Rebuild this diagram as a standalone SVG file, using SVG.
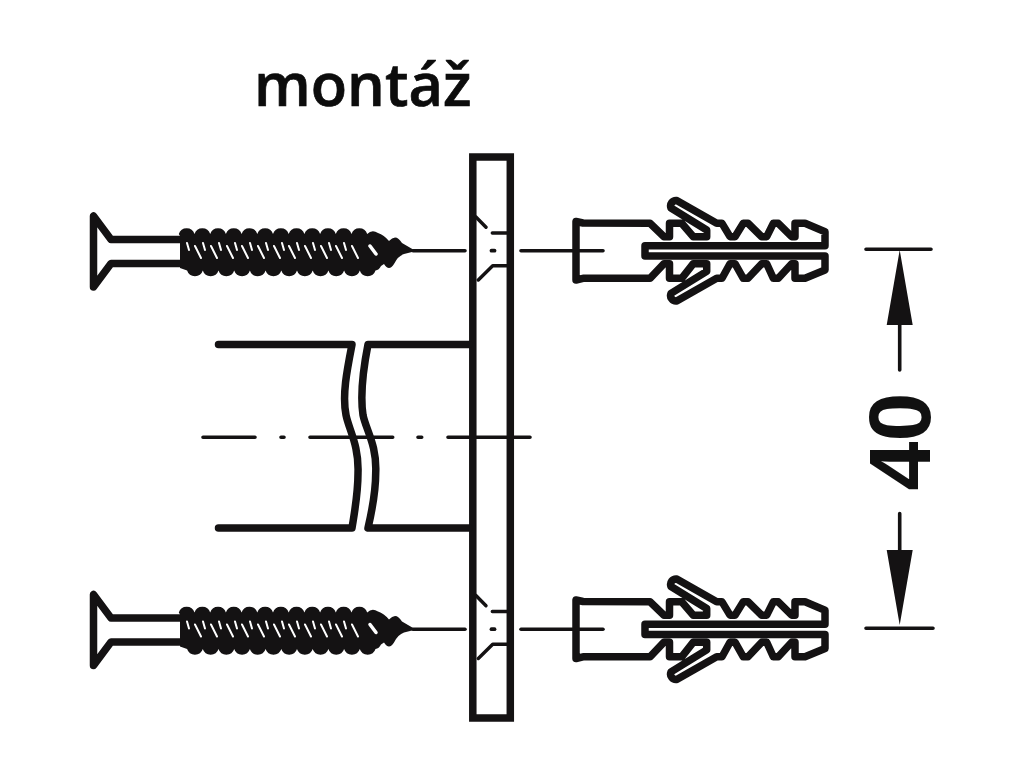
<svg xmlns="http://www.w3.org/2000/svg" xmlns:xlink="http://www.w3.org/1999/xlink" width="1024" height="768" viewBox="0 0 1024 768">
<style>
.o{fill:none;stroke:#141213;stroke-linecap:round;stroke-linejoin:round}
.w6{stroke-width:7.5}
.w3{stroke-width:3.6}
.k{fill:#141213}
.s{fill:none;stroke:#fff;stroke-linecap:round}
.title{font-family:"Open Sans",sans-serif;font-weight:600;font-size:59.5px;fill:#0c0c0c;stroke:#0c0c0c;stroke-width:.7}
.dim{font-family:"Liberation Sans",Arial,sans-serif;font-weight:700;font-size:88px;fill:#111}
</style>
<defs>
<g id="screw">
<path class="o w6" d="M182,239.5H111L93.5,216V287L111,263.5H182"/>
<path class="k" d="M180,236L178.8,234a8.25,8.25 0 0 1 15.7,0a8.25,8.25 0 0 1 15.7,0a8.25,8.25 0 0 1 15.7,0a8.25,8.25 0 0 1 15.7,0a8.25,8.25 0 0 1 15.7,0a8.25,8.25 0 0 1 15.7,0a8.25,8.25 0 0 1 15.7,0a8.25,8.25 0 0 1 15.7,0a8.25,8.25 0 0 1 15.7,0a8.25,8.25 0 0 1 15.7,0a8.25,8.25 0 0 1 15.7,0a8.25,8.25 0 0 1 15.7,0Q372,229 378,233Q384,235 389,241Q396,233 402,243L414,250L414,251.5L404,254Q398,256 394,264Q389,272 384,264L381,266Q379,270 375.5,270.5a8.25,8.25 0 0 1 -15.7,0a8.25,8.25 0 0 1 -15.7,0a8.25,8.25 0 0 1 -15.7,0a8.25,8.25 0 0 1 -15.7,0a8.25,8.25 0 0 1 -15.7,0a8.25,8.25 0 0 1 -15.7,0a8.25,8.25 0 0 1 -15.7,0a8.25,8.25 0 0 1 -15.7,0a8.25,8.25 0 0 1 -15.7,0a8.25,8.25 0 0 1 -15.7,0a8.25,8.25 0 0 1 -15.7,0a8.25,8.25 0 0 1 -15.7,0L180,268Z"/>
<path class="s" stroke-width="2" d="M187,243L189,250M195,246L201,258M211,246L217,258M227,246L233,258M242,246L248,258M258,246L264,258M274,246L280,258M289,246L295,258M305,246L311,258M321,246L327,258M336,246L342,258M352,246L358,258M203,243L205,250M219,243L221,250M235,243L237,250M250,243L252,250M266,243L268,250M282,243L284,250M297,243L299,250M313,243L315,250M329,243L331,250M344,243L346,250"/>
<path class="s" stroke-width="3.5" d="M370,246L376,254"/>
<path d="M413,250.7H465" class="o w3"/>
</g>
<g id="dowel">
<path class="o w6" d="M583,223L576,221.5V280L583,278.3H650L664,263.7H669.5V278.3H681.7L693.3,263.7H706.7V271.4L671,293.4A5.5,5.5 0 0 0 676.7,301L716.7,278.3H722L730,263.7H735L743.3,278.3H748L761.7,263.7H766.7L773.3,278.3H778.3L791.7,263.7H795V278.3H805L825,270V256H645V245.8H825V231.7L805,223.3H795V236.7H791.7L778.3,223.3H773.3L766.7,236.7H761.7L748,223.3H743.3L735,236.7H730L722,223.3H716.7L676.7,200.5A5.5,5.5 0 0 0 671,208L706.7,230V236.7H693.3L681.7,223.3H669.5V236.7H664L650,223.3Z"/>
<path class="o w3" d="M521,250.7H603"/>
</g>
<g id="hole">
<path class="o" stroke-width="3.4" d="M475.7,216.7L486,227.3M492.3,233H507M478.3,280L492.7,265.7H507"/>
<path class="o" stroke-width="3.8" d="M491.5,250.7H494.5"/>
</g>
</defs>

<g id="title"><text class="title" x="254" y="106">montáž</text></g>

<g id="connectors">
<path class="o w3" d="M203,437.3H255M281,437.3H284M310,437.3H392.7M418,437.3H421.7M448,437.3H530"/>
<path class="o w3" d="M866,249.3H931M866,628.3H933M899.7,325V370M899.7,513.5V550"/>
<path class="k" d="M899.7,250L912.7,325H886.7ZM899.7,625L912.7,550H886.7Z"/>
</g>

<g id="plate">
<rect x="472.8" y="157" width="37.5" height="561" fill="none" stroke="#141213" stroke-width="7.5"/>
<use xlink:href="#hole"/>
<use xlink:href="#hole" y="378.5"/>
</g>

<g id="tube">
<path class="o w6" d="M218.5,344.5H352C347,370 342,395 346,415C349,430 359,445 358,473C358,495 354,515 352,528H218.5"/>
<path class="o w6" d="M469,344.5H368C363,370 360,395 363,415C366,430 377,445 375.7,473C375.7,495 371,515 368,528H469"/>
</g>

<g id="screw-top"><use xlink:href="#screw"/></g>
<g id="screw-bottom"><use xlink:href="#screw" y="378.5"/></g>
<g id="dowel-top"><use xlink:href="#dowel"/></g>
<g id="dowel-bottom"><use xlink:href="#dowel" y="378.5"/></g>

<g id="dimension"><text class="dim" transform="translate(929.5,441.5) rotate(-90)" text-anchor="middle">40</text></g>
</svg>
